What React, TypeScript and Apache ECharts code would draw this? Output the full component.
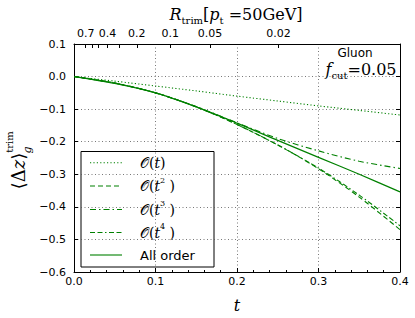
import React, { useEffect, useRef } from 'react';
import * as echarts from 'echarts';

// t values at which the curves were read
const tValues = [0, 0.05, 0.1, 0.15, 0.2, 0.25, 0.3, 0.35, 0.4];
const orderT1 = [0, -0.014, -0.029, -0.044, -0.060, -0.075, -0.090, -0.104, -0.118];
const orderT2 = [0, -0.020, -0.050, -0.093, -0.147, -0.210, -0.283, -0.370, -0.470];
const orderT3 = [0, -0.020, -0.050, -0.092, -0.142, -0.190, -0.228, -0.260, -0.282];
const orderT4 = [0, -0.020, -0.050, -0.093, -0.147, -0.210, -0.281, -0.364, -0.458];
const allOrder = [0, -0.021, -0.050, -0.093, -0.143, -0.196, -0.248, -0.300, -0.354];

// top axis: R_trim tick labels and their positions in t
const rTickLabels = ['0.7', '0.6', '0.5', '0.4', '0.3', '0.2', '0.1', '0.05', '0.02'];
const rTickPositions = [0.0144, 0.0225, 0.030, 0.041, 0.0556, 0.077, 0.118, 0.167, 0.251];
const rLabeled = ['0.7', '0.4', '0.2', '0.1', '0.05', '0.02'];

const seriesNames = ['O(t)', 'O(t2)', 'O(t3)', 'O(t4)', 'All order'];
const GREEN = '#008000';

const SERIF = 'DejaVu Serif';
const SANS = 'DejaVu Sans';

export default function App() {
  const ref = useRef<HTMLDivElement>(null);
  useEffect(() => {
    document.body.style.margin = '0';
    const chart = echarts.init(ref.current!, null, { renderer: 'svg' });
    const dashes: any[] = [[1.2, 2.2], [5, 3], [6, 3, 1.5, 3], [5, 2.5, 5, 2.5, 1.5, 2.5], 'solid'];
    const datas = [orderT1, orderT2, orderT3, orderT4, allOrder];
    const series = datas.map((arr, k) => ({
      name: seriesNames[k],
      type: 'line',
      xAxisIndex: 0,
      yAxisIndex: 0,
      data: tValues.map((t, i) => [t, arr[i]]),
      symbol: 'none',
      smooth: 0.3,
      lineStyle: { color: GREEN, width: k === 4 ? 1.2 : 1.1, type: dashes[k] },
      z: 3,
    }));

    const gridStyle = { color: '#555', width: 0.8, type: [1, 2.5] as any };
    const tickLabelStyle = { fontFamily: SANS, fontSize: 11, color: '#000' };
    const fmtNum = (v: number) => {
      const s = v.toFixed(1);
      return s.startsWith('-') ? '\u2212' + s.slice(1) : s;
    };

    const rRich = {
      n: { fontFamily: SERIF, fontSize: 16, lineHeight: 22, verticalAlign: 'middle' },
      i: { fontFamily: SERIF, fontSize: 16, fontStyle: 'italic', lineHeight: 22, verticalAlign: 'middle' },
      sub: { fontFamily: SERIF, fontSize: 10, lineHeight: 12, verticalAlign: 'bottom' },
      sup: { fontFamily: SERIF, fontSize: 9, lineHeight: 12, verticalAlign: 'top' },
    };
    const yRich = {
      n: { fontFamily: SERIF, fontSize: 18, lineHeight: 22, verticalAlign: 'middle' },
      i: { fontFamily: SERIF, fontSize: 18, fontStyle: 'italic', lineHeight: 22, verticalAlign: 'middle' },
    };

    const legendRows = [
      '{o|\uD835\uDCAA(}{i|t}{o|)}',
      '{o|\uD835\uDCAA(}{i|t}{sup|2}{o| )}',
      '{o|\uD835\uDCAA(}{i|t}{sup|3}{o| )}',
      '{o|\uD835\uDCAA(}{i|t}{sup|4}{o| )}',
      '{s|All order}',
    ];
    const legRich = {
      o: { fontFamily: SERIF, fontSize: 14, lineHeight: 20, verticalAlign: 'middle' },
      i: { fontFamily: SERIF, fontSize: 14, fontStyle: 'italic', lineHeight: 20, verticalAlign: 'middle' },
      sup: { fontFamily: SERIF, fontSize: 8, lineHeight: 12, verticalAlign: 'top' },
      s: { fontFamily: SANS, fontSize: 13, lineHeight: 20 },
    };
    const rowY = [162.7, 186, 209.5, 232.5, 255];
    const legendChildren: any[] = [
      {
        type: 'rect',
        shape: { x: 81, y: 151.5, width: 133, height: 115.5 },
        style: { fill: '#fff', stroke: '#000', lineWidth: 1 },
      },
    ];
    rowY.forEach((y, k) => {
      const d = dashes[k];
      legendChildren.push({
        type: 'line',
        shape: { x1: 90, y1: y, x2: 122, y2: y },
        style: { stroke: GREEN, lineWidth: 1.1, lineDash: d === 'solid' ? null : d },
      });
      legendChildren.push({
        type: 'text',
        x: 140,
        y: y,
        style: { text: legendRows[k], rich: legRich, verticalAlign: 'middle', align: 'left', fill: '#000' },
      });
    });

    const option: any = {
      animation: false,
      grid: { left: 74, right: 15, top: 44, bottom: 43 },
      xAxis: [
        {
          type: 'value',
          position: 'bottom',
          min: 0,
          max: 0.4,
          interval: 0.1,
          name: 't',
          nameLocation: 'middle',
          nameGap: 25,
          nameTextStyle: { fontFamily: SERIF, fontStyle: 'italic', fontSize: 16, color: '#000' },
          axisLine: { show: true, onZero: false, lineStyle: { color: '#000', width: 1 } },
          axisTick: { show: true, inside: true, length: 4, lineStyle: { color: '#000' } },
          minorTick: { show: true, splitNumber: 5, length: 2, lineStyle: { color: '#000' } },
          axisLabel: { ...tickLabelStyle, margin: 4, formatter: (v: number) => v.toFixed(1) },
          splitLine: { show: true, lineStyle: gridStyle },
        },
        {
          type: 'value',
          position: 'top',
          min: 0,
          max: 0.4,
          axisLine: { show: true, onZero: false, lineStyle: { color: '#000', width: 1 } },
          axisTick: { show: true, inside: true, length: 4, customValues: rTickPositions, lineStyle: { color: '#000' } },
          axisLabel: {
            ...tickLabelStyle,
            margin: 5,
            customValues: rTickPositions.filter((_, i) => rLabeled.includes(rTickLabels[i])),
            formatter: (v: number) => {
              let best = 0;
              rTickPositions.forEach((p, i) => {
                if (Math.abs(p - v) < Math.abs(rTickPositions[best] - v)) best = i;
              });
              return rTickLabels[best];
            },
          },
          splitLine: { show: false },
        },
      ],
      yAxis: [
        {
          type: 'value',
          position: 'left',
          min: -0.6,
          max: 0.1,
          interval: 0.1,
          axisLine: { show: true, onZero: false, lineStyle: { color: '#000', width: 1 } },
          axisTick: { show: true, inside: true, length: 4, lineStyle: { color: '#000' } },
          axisLabel: { ...tickLabelStyle, margin: 8, formatter: fmtNum },
          splitLine: { show: true, lineStyle: gridStyle },
        },
        {
          type: 'value',
          position: 'right',
          min: -0.6,
          max: 0.1,
          interval: 0.1,
          axisLine: { show: true, onZero: false, lineStyle: { color: '#000', width: 1 } },
          axisTick: { show: true, inside: true, length: 4, lineStyle: { color: '#000' } },
          axisLabel: { show: false },
          splitLine: { show: false },
        },
      ],
      series,
      graphic: [
        {
          type: 'text',
          x: 236,
          y: 14,
          style: {
            text: '{i|R}{sub|trim}{n|[}{i|p}{sub|t}{n| =50GeV]}',
            rich: rRich,
            align: 'center',
            verticalAlign: 'middle',
            fill: '#000',
          },
        },
        {
          type: 'text',
          x: 355,
          y: 53,
          style: { text: 'Gluon', fontFamily: SANS, fontSize: 12, align: 'center', verticalAlign: 'middle', fill: '#000' },
        },
        {
          type: 'text',
          x: 361,
          y: 69,
          style: {
            text: '{i|f}{sub|cut}{n|=0.05}',
            rich: rRich,
            align: 'center',
            verticalAlign: 'middle',
            fill: '#000',
          },
        },
        {
          type: 'group',
          x: 18,
          y: 160,
          rotation: Math.PI / 2,
          children: [
            {
              type: 'text',
              x: -11,
              y: 0,
              style: {
                text: '{n|\u27E8\u0394}{i|z}{n|\u27E9}',
                rich: yRich,
                align: 'center',
                verticalAlign: 'middle',
                fill: '#000',
              },
            },
            {
              type: 'text',
              x: 18,
              y: -9,
              style: { text: 'trim', fontFamily: SERIF, fontSize: 10, align: 'center', verticalAlign: 'middle', fill: '#000' },
            },
            {
              type: 'text',
              x: 10,
              y: 9,
              style: { text: 'g', fontFamily: SERIF, fontStyle: 'italic', fontSize: 11, align: 'center', verticalAlign: 'middle', fill: '#000' },
            },
          ],
        },
        { type: 'group', z: 10, children: legendChildren },
      ],
    };
    chart.setOption(option);
    return () => chart.dispose();
  }, []);
  return <div ref={ref} style={{ position: 'absolute', left: 0, top: 0, width: 415, height: 318 }} />;
}
